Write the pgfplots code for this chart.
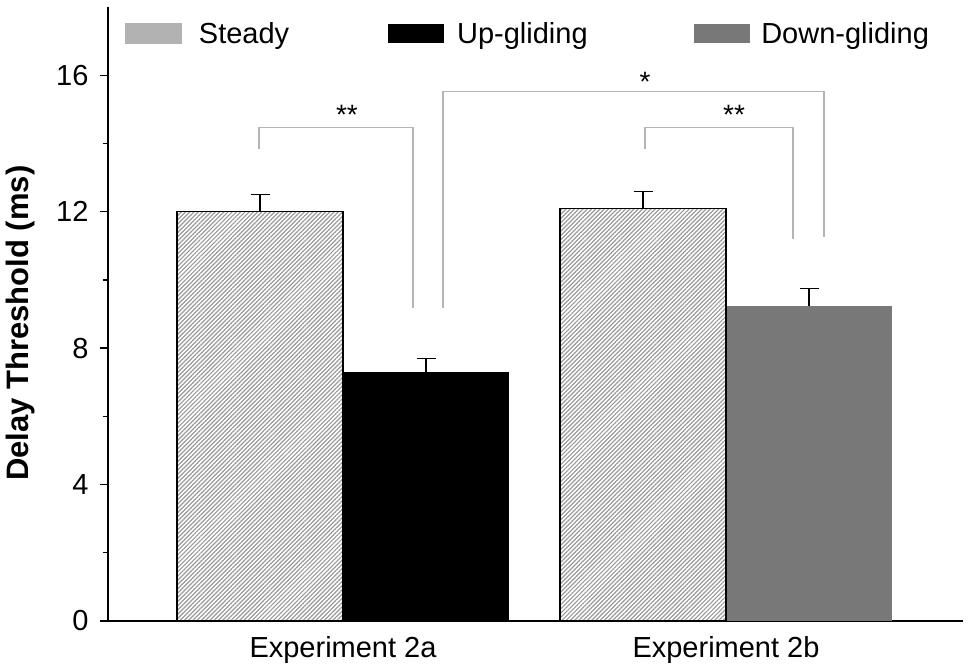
\documentclass[border=0pt]{standalone}
\usepackage{pgfplots}
\pgfplotsset{compat=1.18}
\usetikzlibrary{patterns.meta}
\usepackage{fontspec}
\setmainfont{Liberation Sans}
\definecolor{downgray}{HTML}{787878}
\definecolor{brgray}{HTML}{B4B4B4}
\tikzset{hatch/.style={pattern={Lines[angle=45,distance=3pt,line width=1.2pt]},pattern color=black!40}}
\newcommand{\legpad}[1]{\pgfpathrectangle{\pgfpointorigin}{\pgfpoint{#1}{1pt}}\pgfusepath{discard}}
\begin{document}
\begin{tikzpicture}
\begin{axis}[
  scale only axis, width=855pt, height=614pt,
  xmin=-0.6136, xmax=1.6188, ymin=0, ymax=18,
  axis x line=bottom, axis y line=left,
  axis line style={-, line width=1.3pt, black},
  xtick={0,1}, xticklabels={Experiment 2a, Experiment 2b},
  major x tick style={draw=none},
  ytick={0,4,8,12,16}, minor ytick={2,6,10,14},
  tick align=outside, major tick length=8pt, minor tick length=5pt,
  tick style={line width=1.3pt, black},
  tick label style={font=\fontsize{29}{35}\selectfont},
  yticklabel style={xshift=-8pt},
  xticklabel style={yshift=-4pt},
  /pgf/number format/assume math mode=true,
  ylabel={Delay Threshold (ms)},
  ylabel style={font=\fontsize{31}{37}\selectfont\bfseries, at={(axis description cs:-0.1023,0.485)}, anchor=center},
  legend columns=3,
  legend style={at={(rel axis cs:0.0199,0.957)}, anchor=west, draw=none, fill=none,
    inner sep=0pt, outer sep=0pt, column sep=0pt, row sep=0pt,
    font=\fontsize{29}{35}\selectfont,
    cells={anchor=base west}, nodes={inner sep=0pt}},
  clip=false,
]
\addplot[ybar, bar width=0.4334, bar shift=0pt, hatch, draw=none,
  legend image code/.code={\fill[hatch] (0pt,0pt) rectangle (56pt,19.5pt);
    \draw[black!30, line width=0.6pt] (0pt,0pt) rectangle (56pt,19.5pt);
    \legpad{73.6pt}},
  error bars/.cd, y dir=plus, y explicit, error mark=|,
  error bar style={line width=1.3pt, black},
  error mark options={line width=1.3pt, black, mark size=9.5pt}]
  coordinates {(-0.2167,12.01) +- (0,0.50) (0.7833,12.10) +- (0,0.50)};
\addlegendentry{\makebox[189.4pt][l]{Steady}}
\addplot[ybar, bar width=0.4334, bar shift=0pt, fill=black, draw=none,
  legend image code/.code={\fill[black] (0pt,0pt) rectangle (56pt,19.5pt);
    \legpad{68.8pt}},
  error bars/.cd, y dir=plus, y explicit, error mark=|,
  error bar style={line width=1.3pt, black},
  error mark options={line width=1.3pt, black, mark size=9.5pt}]
  coordinates {(0.2167,7.31) +- (0,0.38)};
\addlegendentry{\makebox[237.2pt][l]{Up-gliding}}
\addplot[ybar, bar width=0.4334, bar shift=0pt, fill=downgray, draw=none,
  legend image code/.code={\fill[downgray] (0pt,0pt) rectangle (56pt,19.5pt);
    \legpad{67pt}},
  error bars/.cd, y dir=plus, y explicit, error mark=|,
  error bar style={line width=1.3pt, black},
  error mark options={line width=1.3pt, black, mark size=9.5pt}]
  coordinates {(1.2167,9.22) +- (0,0.53)};
\addlegendentry{Down-gliding}
% outlines of steady bars on top
\addplot[ybar, bar width=0.4334, bar shift=0pt, fill=none, draw=black, line width=1.3pt, forget plot]
  coordinates {(-0.2167,12.01) (0.7833,12.10)};
% significance brackets
\draw[brgray, line width=1.3pt] (axis cs:-0.2193,13.83) -- (axis cs:-0.2193,14.47) -- (axis cs:0.1828,14.47) -- (axis cs:0.1828,9.19);
\draw[brgray, line width=1.3pt] (axis cs:0.2611,9.19) -- (axis cs:0.2611,15.53) -- (axis cs:1.2559,15.53) -- (axis cs:1.2559,11.25);
\draw[brgray, line width=1.3pt] (axis cs:0.7885,13.83) -- (axis cs:0.7885,14.47) -- (axis cs:1.175,14.47) -- (axis cs:1.175,11.19);
\node[anchor=base, inner sep=0pt, font=\fontsize{28}{32}\selectfont] at (axis cs:0.0104,14.55) {**};
\node[anchor=base, inner sep=0pt, font=\fontsize{28}{32}\selectfont] at (axis cs:0.7885,15.52) {*};
\node[anchor=base, inner sep=0pt, font=\fontsize{28}{32}\selectfont] at (axis cs:1.0209,14.55) {**};
\coordinate (O) at (rel axis cs:0,0);
\end{axis}
\pgfresetboundingbox
\path (O) ++(-108pt,-48pt) rectangle ++(969pt,669pt);
\end{tikzpicture}
\end{document}
